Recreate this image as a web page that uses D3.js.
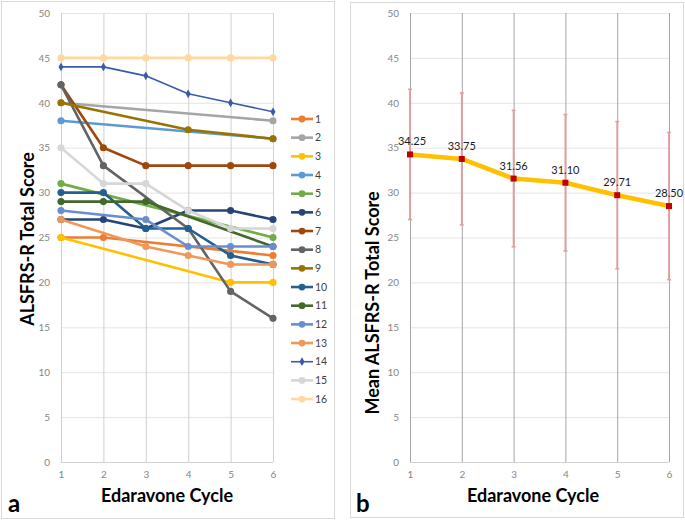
<!DOCTYPE html>
<html><head><meta charset="utf-8">
<script src="https://cdn.jsdelivr.net/npm/d3@7"></script>
<style>body{margin:0;background:#fff}svg{display:block}</style>
</head><body>
<svg id="c" width="685" height="520"></svg>
<script>
const cycles = [1, 2, 3, 4, 5, 6];
const yTicks = [0, 5, 10, 15, 20, 25, 30, 35, 40, 45, 50];
const seriesNames = ["1","2","3","4","5","6","7","8","9","10","11","12","13","14","15","16"];
const s1  = [25, 25, null, null, null, 23];
const s2  = [40, null, null, null, null, 38];
const s3  = [25, null, null, null, 20, 20];
const s4  = [38, null, null, null, null, 36];
const s5  = [31, null, null, null, null, 25];
const s6  = [27, 27, 26, 28, 28, 27];
const s7  = [42, 35, 33, 33, 33, 33];
const s8  = [42, 33, null, 26, 19, 16];
const s9  = [40, null, null, 37, null, 36];
const s10 = [30, 30, 26, 26, 23, 22];
const s11 = [29, 29, 29, null, null, 24];
const s12 = [28, null, 27, 24, 24, 24];
const s13 = [27, null, 24, 23, 22, 22];
const s14 = [44, 44, 43, 41, 40, 39];
const s15 = [35, 31, 31, 28, 26, 26];
const s16 = [45, 45, 45, 45, 45, 45];
const meanScores = [34.25, 33.75, 31.56, 31.10, 29.71, 28.50];
const meanLabels = ["34.25", "33.75", "31.56", "31.10", "29.71", "28.50"];
const sdErrors = [7.25, 7.35, 7.6, 7.6, 8.2, 8.2];

const allSeries = [s1,s2,s3,s4,s5,s6,s7,s8,s9,s10,s11,s12,s13,s14,s15,s16];
const colors = ["#ED7D31","#A5A5A5","#FFC000","#5B9BD5","#70AD47","#264478","#9E480E","#636363",
                "#997300","#255E91","#43682B","#698ED0","#F1975A","#3A5BA8","#D6D6D6","#FFD8A0"];

const svg = d3.select("#c");
const font = "Lato, 'Open Sans', sans-serif";

// frames
svg.append("rect").attr("x",1.5).attr("y",1.5).attr("width",333).attr("height",517)
  .attr("fill","none").attr("stroke","#D9D9D9");
svg.append("rect").attr("x",350.5).attr("y",2.5).attr("width",333).attr("height",515)
  .attr("fill","none").attr("stroke","#D9D9D9");

function panel(x0, x1, vGridColor) {
  const x = d3.scaleLinear().domain([1, 6]).range([x0, x1]);
  const y = d3.scaleLinear().domain([0, 50]).range([462, 13]);
  const g = svg.append("g");
  g.append("g").attr("transform", `translate(${x0},0)`)
    .call(d3.axisLeft(y).tickValues(yTicks).tickSize(-(x1 - x0)).tickFormat(""))
    .call(a => a.select(".domain").remove())
    .call(a => a.selectAll("line").attr("stroke", "#E4E4E4"));
  g.append("g").attr("transform", `translate(0,13)`)
    .call(d3.axisBottom(x).tickValues(cycles).tickSize(449).tickFormat(""))
    .call(a => a.select(".domain").remove())
    .call(a => a.selectAll("line").attr("stroke", vGridColor));
  g.append("line").attr("x1", x0).attr("x2", x1).attr("y1", y(0)+0.5).attr("y2", y(0)+0.5)
    .attr("stroke", "#D0D0D0");
  g.append("g").attr("transform", `translate(${x0 - 8},0)`)
    .call(d3.axisLeft(y).tickValues(yTicks).tickSize(0).tickFormat(d3.format("d")))
    .call(a => a.select(".domain").remove())
    .call(a => a.selectAll("text").attr("fill", "#858585").style("font-family", font).style("font-size", "10px"));
  g.append("g").attr("transform", `translate(0,468)`)
    .call(d3.axisBottom(x).tickValues(cycles).tickSize(0).tickFormat(d3.format("d")))
    .call(a => a.select(".domain").remove())
    .call(a => a.selectAll("text").attr("fill", "#858585").style("font-family", font).style("font-size", "10px"));
  return {x, y, g};
}

// Panel a
const A = panel(61, 273, "#D0D0D0");
allSeries.forEach((s, i) => {
  const pts = cycles.map((c, j) => [c, s[j]]).filter(d => d[1] !== null);
  const line = d3.line().x(d => A.x(d[0])).y(d => A.y(d[1]));
  const isDiamond = i === 13;
  A.g.append("path").attr("d", line(pts)).attr("fill", "none")
    .attr("stroke", colors[i]).attr("stroke-width", isDiamond ? 1.6 : 2.6)
    .attr("stroke-linejoin", "round");
  A.g.selectAll(null).data(pts).join("path")
    .attr("transform", d => `translate(${A.x(d[0])},${A.y(d[1])})`)
    .attr("d", isDiamond ? d3.symbol(d3.symbolDiamond, 22)() : d3.symbol(d3.symbolCircle, 40)())
    .attr("fill", colors[i]);
});

// legend
const leg = svg.append("g");
seriesNames.forEach((n, i) => {
  const yy = 119 + i * 18.67;
  leg.append("line").attr("x1", 291).attr("x2", 313).attr("y1", yy).attr("y2", yy)
    .attr("stroke", colors[i]).attr("stroke-width", i === 13 ? 1.6 : 2.6);
  leg.append("path").attr("transform", `translate(302,${yy})`)
    .attr("d", i === 13 ? d3.symbol(d3.symbolDiamond, 22)() : d3.symbol(d3.symbolCircle, 36)())
    .attr("fill", colors[i]);
  leg.append("text").attr("x", 315).attr("y", yy + 3.5).text(n)
    .attr("fill", "#404040").style("font-family", font).style("font-size", "10.5px");
});

// Panel b
const B = panel(410, 669, "#A6A6A6");
cycles.forEach((c, j) => {
  const xx = B.x(c), hi = B.y(meanScores[j] + sdErrors[j]), lo = B.y(meanScores[j] - sdErrors[j]);
  B.g.append("line").attr("x1", xx).attr("x2", xx).attr("y1", hi).attr("y2", lo)
    .attr("stroke", "#E59C9C").attr("stroke-width", 1.8);
  [hi, lo].forEach(v => B.g.append("line").attr("x1", xx - 2).attr("x2", xx + 2).attr("y1", v).attr("y2", v)
    .attr("stroke", "#E59C9C").attr("stroke-width", 1.5));
});
const mline = d3.line().x((d, j) => B.x(cycles[j])).y(d => B.y(d));
B.g.append("path").attr("d", mline(meanScores)).attr("fill", "none")
  .attr("stroke", "#FFC000").attr("stroke-width", 4.5).attr("stroke-linejoin", "round");
B.g.selectAll(null).data(meanScores).join("rect")
  .attr("x", (d, j) => B.x(cycles[j]) - 3).attr("y", d => B.y(d) - 3)
  .attr("width", 6).attr("height", 6).attr("fill", "#C00000");
B.g.selectAll(null).data(meanScores).join("text")
  .attr("x", (d, j) => B.x(cycles[j]) + (j === 0 ? 2 : 0)).attr("y", d => B.y(d) - 9)
  .attr("text-anchor", "middle").text((d, j) => meanLabels[j])
  .attr("fill", "#1a1a1a").style("font-family", font).style("font-size", "11px");

// titles
function title(x, y, t, rot) {
  svg.append("text").attr("transform", `translate(${x},${y})` + (rot ? " rotate(-90)" : ""))
    .attr("text-anchor", "middle").text(t)
    .attr("fill", "#000").style("font-family", font).style("font-weight", "bold").style("font-size", "18px");
}
title(167, 502, "Edaravone Cycle");
title(533, 502, "Edaravone Cycle");
title(34, 239, "ALSFRS-R Total Score", true);
title(379, 303, "Mean ALSFRS-R Total Score", true);

svg.append("text").attr("x", 8).attr("y", 512).text("a").attr("fill", "#000")
  .style("font-family", font).style("font-weight", "bold").style("font-size", "24px");
svg.append("text").attr("x", 356).attr("y", 512).text("b").attr("fill", "#000")
  .style("font-family", font).style("font-weight", "bold").style("font-size", "24px");
</script>
</body></html>
